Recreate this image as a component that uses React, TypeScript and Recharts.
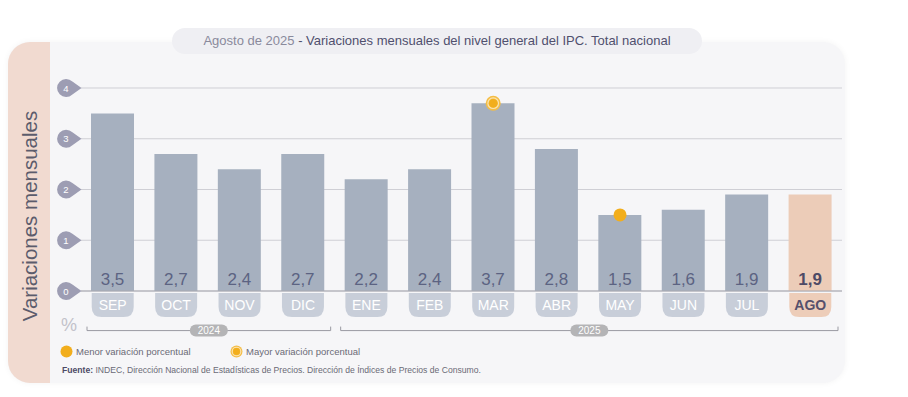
import React from 'react';
import { ComposedChart, Bar, Cell, XAxis, YAxis, CartesianGrid, Scatter, LabelList, ReferenceArea } from 'recharts';

const months = ['SEP', 'OCT', 'NOV', 'DIC', 'ENE', 'FEB', 'MAR', 'ABR', 'MAY', 'JUN', 'JUL', 'AGO'];
const values = [3.5, 2.7, 2.4, 2.7, 2.2, 2.4, 3.7, 2.8, 1.5, 1.6, 1.9, 1.9];
const yTicks = [0, 1, 2, 3, 4];
const years = [
  { label: '2024', from: 'SEP', to: 'DIC' },
  { label: '2025', from: 'ENE', to: 'AGO' },
];
const currentMonth = 'AGO';
const minMonth = 'MAY';
const maxMonth = 'MAR';
const titleDate = 'Agosto de 2025';
const titleText = ' - Variaciones mensuales del nivel general del IPC. Total nacional';
const yLabel = 'Variaciones mensuales';
const legendMin = 'Menor variación porcentual';
const legendMax = 'Mayor variación porcentual';
const sourceBold = 'Fuente:';
const sourceText = ' INDEC, Dirección Nacional de Estadísticas de Precios. Dirección de Índices de Precios de Consumo.';

const data = months.map((m, i) => ({
  month: m,
  value: values[i],
  min: m === minMonth ? values[i] : null,
  max: m === maxMonth ? values[i] : null,
}));

const FONT = '"Liberation Sans", Arial, Helvetica, sans-serif';
const ORANGE = '#f2ae1c';

const YTick = (props: any) => {
  const { x, y, payload } = props;
  const cx = x - 15;
  const r = 9;
  const d = `M ${cx + 6.4} ${y - 6.4} A ${r} ${r} 0 1 0 ${cx + 6.4} ${y + 6.4} L ${cx + 15.5} ${y} Z`;
  return (
    <g>
      <path d={d} fill="#9d9db3" />
      <text x={cx} y={y + 3.5} textAnchor="middle" fill="#ffffff" fontSize={9.5} fontFamily={FONT}>
        {payload.value}
      </text>
    </g>
  );
};

const XTick = (props: any) => {
  const { x, y, payload } = props;
  const cur = payload.value === currentMonth;
  const w = 42;
  const h = 24;
  const r = 10;
  const left = x - w / 2;
  const top = y + 2;
  const d = `M ${left} ${top} L ${left + w} ${top} L ${left + w} ${top + h - r} Q ${left + w} ${top + h} ${left + w - r} ${top + h} L ${left + r} ${top + h} Q ${left} ${top + h} ${left} ${top + h - r} Z`;
  return (
    <g>
      <path d={d} fill={cur ? '#edcdb9' : '#c8ced9'} />
      <text
        x={x}
        y={top + 17}
        textAnchor="middle"
        fill={cur ? '#55506c' : '#ffffff'}
        fontWeight={cur ? 700 : 400}
        fontSize={14}
        fontFamily={FONT}
      >
        {payload.value}
      </text>
    </g>
  );
};

const ValueLabel = (props: any) => {
  const { x, y, width, height, value, index } = props;
  const cur = months[index] === currentMonth;
  return (
    <text
      x={x + width / 2}
      y={y + height - 6}
      textAnchor="middle"
      fill={cur ? '#4d4a66' : '#5c6382'}
      fontWeight={cur ? 700 : 400}
      fontSize={17}
      fontFamily={FONT}
    >
      {Number(value).toFixed(1).replace('.', ',')}
    </text>
  );
};

const MinDot = (props: any) => {
  const { cx, cy, payload } = props;
  if (payload == null || payload.min == null) return <g />;
  return <circle cx={cx} cy={cy} r={6.5} fill={ORANGE} />;
};

const MaxDot = (props: any) => {
  const { cx, cy, payload } = props;
  if (payload == null || payload.max == null) return <g />;
  return (
    <g>
      <circle cx={cx} cy={cy} r={7.5} fill="#f4bd45" />
      <circle cx={cx} cy={cy} r={5.3} fill="none" stroke="#fbe3b0" strokeWidth={1.2} />
      <circle cx={cx} cy={cy} r={4.3} fill={ORANGE} />
    </g>
  );
};

const YearBracket = (label: string) => (props: any) => {
  const { x, y, width } = props;
  const x1 = x + 6;
  const x2 = x + width - 4;
  const ly = y;
  const mid = (x1 + x2) / 2;
  return (
    <g>
      <path d={`M ${x1} ${ly - 4} L ${x1} ${ly} L ${x2} ${ly} L ${x2} ${ly - 4}`} fill="none" stroke="#9a9aa2" strokeWidth={1} />
      <rect x={mid - 19} y={ly - 6} width={38} height={12} rx={6} fill="#b4b4b6" />
      <text x={mid} y={ly + 3.5} textAnchor="middle" fill="#ffffff" fontSize={10} fontFamily={FONT}>
        {label}
      </text>
    </g>
  );
};

export default function App() {
  return (
    <div style={{ position: 'absolute', left: 0, top: 0, width: 908, height: 397, background: '#ffffff', fontFamily: FONT, overflow: 'hidden' }}>
      {/* card */}
      <div
        style={{
          position: 'absolute',
          left: 8,
          top: 42,
          width: 837,
          height: 341,
          borderRadius: 22,
          background: '#f6f6f8',
          boxShadow: '0 0 6px rgba(0,0,0,0.05)',
          overflow: 'hidden',
        }}
      >
        <div style={{ position: 'absolute', left: 0, top: 0, width: 42, height: 341, background: '#f1dad0' }} />
      </div>
      {/* title */}
      <div
        style={{
          position: 'absolute',
          left: 172,
          top: 28,
          width: 530,
          height: 26,
          borderRadius: 13,
          background: '#efeff3',
          fontSize: 13,
          lineHeight: '26px',
          textAlign: 'center',
          whiteSpace: 'nowrap',
        }}
      >
        <span style={{ color: '#8a8a9c' }}>{titleDate}</span>
        <span style={{ color: '#50506e' }}>{titleText}</span>
      </div>
      {/* y label */}
      <div
        style={{
          position: 'absolute',
          left: 30,
          top: 216,
          transform: 'translate(-50%, -50%) rotate(-90deg)',
          fontSize: 20.5,
          color: '#5c5c6c',
          whiteSpace: 'nowrap',
        }}
      >
        {yLabel}
      </div>
      {/* percent */}
      <div style={{ position: 'absolute', left: 61, top: 315, fontSize: 18, color: '#c2c2ca' }}>%</div>
      {/* chart */}
      <div style={{ position: 'absolute', left: 0, top: 0 }}>
        <ComposedChart width={908} height={397} data={data} margin={{ top: 88, right: 66, bottom: 76, left: 51 }}>
          <CartesianGrid horizontal vertical={false} stroke="#cfcfd5" strokeWidth={1} />
          <YAxis
            type="number"
            domain={[0, 4]}
            ticks={yTicks}
            width={30}
            tickSize={0}
            tickMargin={0}
            axisLine={false}
            tickLine={false}
            tick={<YTick />}
            interval={0}
          />
          <XAxis
            dataKey="month"
            height={30}
            tickSize={0}
            tickMargin={0}
            tickLine={false}
            axisLine={{ stroke: '#a8a8b0', strokeWidth: 1.2 }}
            tick={<XTick />}
            interval={0}
          />
          <Bar dataKey="value" barSize={43} isAnimationActive={false} legendType="none">
            {data.map((d) => (
              <Cell key={d.month} fill={d.month === currentMonth ? '#ecccb8' : '#a6b0bf'} />
            ))}
            <LabelList dataKey="value" content={<ValueLabel />} />
          </Bar>
          <Scatter dataKey="min" name={legendMin} isAnimationActive={false} shape={<MinDot />} />
          <Scatter dataKey="max" name={legendMax} isAnimationActive={false} shape={<MaxDot />} />
          {years.map((yr) => (
            <ReferenceArea
              key={yr.label}
              x1={yr.from}
              x2={yr.to}
              y1={-0.78}
              y2={-0.78}
              ifOverflow="visible"
              shape={YearBracket(yr.label)}
            />
          ))}
        </ComposedChart>
      </div>
      {/* legend */}
      <div style={{ position: 'absolute', left: 60, top: 345, fontSize: 9.5, color: '#6a6a76', display: 'flex', alignItems: 'center', whiteSpace: 'nowrap' }}>
        <svg width={13} height={13} style={{ marginRight: 3 }}>
          <circle cx={6.5} cy={6.5} r={6} fill={ORANGE} />
        </svg>
        <span style={{ width: 154 }}>{legendMin}</span>
        <svg width={13} height={13} style={{ marginRight: 3 }}>
          <circle cx={6.5} cy={6.5} r={6} fill="#f4bd45" />
          <circle cx={6.5} cy={6.5} r={4.3} fill="none" stroke="#fbe3b0" strokeWidth={1.1} />
          <circle cx={6.5} cy={6.5} r={3.4} fill={ORANGE} />
        </svg>
        <span>{legendMax}</span>
      </div>
      {/* source */}
      <div style={{ position: 'absolute', left: 62, top: 365, fontSize: 8.6, color: '#6a6a76', whiteSpace: 'nowrap' }}>
        <span style={{ fontWeight: 700, color: '#4d4a66' }}>{sourceBold}</span>
        <span>{sourceText}</span>
      </div>
    </div>
  );
}
